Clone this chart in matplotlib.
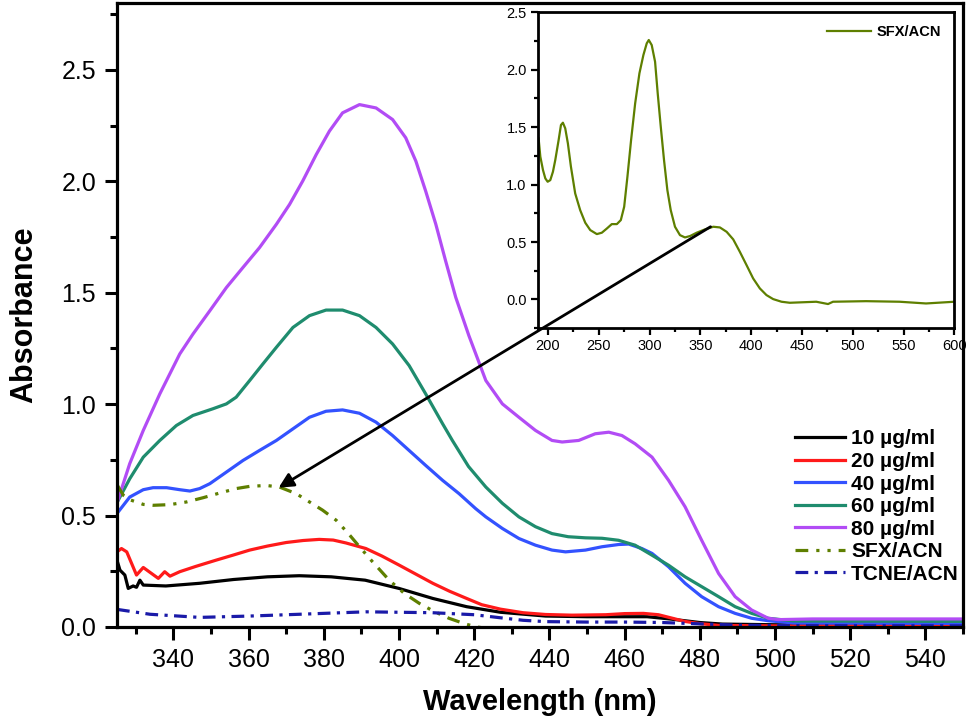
import numpy as np
import matplotlib.pyplot as plt
from matplotlib.ticker import MultipleLocator

plt.rcParams['font.family'] = ['Liberation Sans', 'DejaVu Sans']

# main spectra, values (wavelength nm, absorbance)
wl_10 = [325, 325.8, 327.1, 328, 329.3, 330.2, 331.1, 332, 338, 347, 356, 365, 373.5, 382, 391, 400, 409, 418, 427, 439, 450, 466, 472, 480, 486, 500, 520, 550]
abs_10 = [0.30, 0.255, 0.233, 0.173, 0.184, 0.178, 0.21, 0.188, 0.184, 0.196, 0.213, 0.225, 0.23, 0.225, 0.21, 0.173, 0.128, 0.091, 0.066, 0.049, 0.046, 0.046, 0.036, 0.02, 0.013, 0.01, 0.01, 0.01]

wl_20 = [325, 326.2, 327.6, 330.2, 332, 334.2, 336, 337.7, 339.1, 341.7, 346, 351.4, 356, 360.3, 365, 370, 374.5, 378.8, 382.5, 385.9, 391.2, 395.5, 400, 404.5, 409, 413.5, 418, 422, 427, 433, 439, 446, 455, 460, 465, 469, 473, 476, 480, 485, 500, 550]
abs_20 = [0.337, 0.352, 0.337, 0.233, 0.267, 0.24, 0.218, 0.248, 0.228, 0.248, 0.272, 0.30, 0.323, 0.345, 0.363, 0.379, 0.388, 0.393, 0.39, 0.377, 0.352, 0.318, 0.278, 0.237, 0.196, 0.16, 0.128, 0.1, 0.08, 0.064, 0.056, 0.053, 0.055, 0.06, 0.061, 0.055, 0.038, 0.025, 0.015, 0.007, 0.005, 0.005]

wl_40 = [325, 328.4, 332.0, 334.6, 338.2, 341.7, 344.4, 347.0, 349.7, 354.1, 358.5, 362.9, 367.4, 371.8, 376.2, 380.6, 385.0, 389.5, 393.9, 398.3, 402.7, 407.1, 411.6, 416.0, 420.4, 423.1, 427.5, 431.9, 436.3, 440.7, 444.3, 449.6, 454, 458.4, 461.1, 464.6, 467.3, 471.7, 476.1, 480.5, 485, 489.4, 493.8, 498.2, 505, 550]
abs_40 = [0.509, 0.583, 0.616, 0.625, 0.625, 0.616, 0.61, 0.621, 0.643, 0.695, 0.747, 0.792, 0.837, 0.889, 0.941, 0.968, 0.974, 0.959, 0.919, 0.859, 0.792, 0.725, 0.658, 0.598, 0.531, 0.494, 0.442, 0.397, 0.367, 0.345, 0.337, 0.345, 0.36, 0.37, 0.372, 0.352, 0.33, 0.27, 0.196, 0.136, 0.091, 0.061, 0.039, 0.028, 0.018, 0.016]

wl_60 = [325.1, 328.4, 332.0, 336.4, 340.8, 345.2, 350.5, 354.1, 356.7, 360.3, 363.8, 367.4, 371.8, 376.2, 380.6, 385.0, 389.5, 393.9, 398.3, 402.7, 407.1, 411.6, 414.2, 418.5, 423.1, 427.5, 431.9, 436.3, 440.7, 445, 449.6, 454, 458.4, 462.8, 467.3, 471.7, 476.1, 480.5, 485, 489.4, 493.8, 498.2, 505, 550]
abs_60 = [0.561, 0.665, 0.762, 0.837, 0.904, 0.949, 0.979, 1.001, 1.031, 1.106, 1.18, 1.255, 1.344, 1.397, 1.422, 1.422, 1.397, 1.344, 1.27, 1.173, 1.046, 0.912, 0.837, 0.72, 0.628, 0.555, 0.494, 0.45, 0.419, 0.405, 0.40, 0.398, 0.389, 0.367, 0.322, 0.277, 0.225, 0.181, 0.136, 0.091, 0.061, 0.039, 0.027, 0.025]

wl_80 = [325.1, 328.4, 332.0, 336.4, 341.7, 345.2, 349.7, 354.1, 358.5, 362.9, 367.4, 370.9, 374.4, 378.0, 381.5, 385.0, 389.5, 393.9, 398.3, 401.8, 404.5, 407.1, 409.8, 412.4, 415.1, 418.6, 423.1, 427.5, 431.9, 436.3, 440.7, 443.4, 447.8, 452.2, 455.8, 459.3, 462.8, 467.3, 471.7, 476.1, 480.5, 485.0, 489.4, 493.8, 498.2, 500.9, 510, 550]
abs_80 = [0.561, 0.733, 0.882, 1.046, 1.225, 1.314, 1.419, 1.523, 1.613, 1.702, 1.807, 1.896, 2.001, 2.12, 2.225, 2.307, 2.344, 2.329, 2.277, 2.195, 2.09, 1.956, 1.807, 1.643, 1.479, 1.307, 1.106, 1.001, 0.941, 0.882, 0.837, 0.83, 0.837, 0.867, 0.874, 0.859, 0.822, 0.762, 0.658, 0.539, 0.389, 0.24, 0.136, 0.076, 0.039, 0.033, 0.036, 0.036]

wl_sfx = [325.1, 326.7, 328.4, 332.0, 334.6, 339.1, 343.5, 347.9, 352.3, 356.7, 360.3, 364.7, 368.2, 372.7, 376.2, 379.7, 383.3, 386.5, 389.5, 393.0, 397.4, 401.4, 405.4, 409.4, 413.3, 417.7, 420.8, 423.1]
abs_sfx = [0.636, 0.591, 0.571, 0.55, 0.546, 0.549, 0.561, 0.58, 0.601, 0.621, 0.631, 0.635, 0.628, 0.598, 0.561, 0.524, 0.479, 0.42, 0.36, 0.292, 0.21, 0.151, 0.106, 0.069, 0.039, 0.013, 0.0, -0.006]

wl_tcne = [325, 333.8, 347, 360.3, 373.5, 391.2, 408.9, 420, 426.6, 433, 439, 450, 460, 470, 480, 490, 500, 550]
abs_tcne = [0.079, 0.057, 0.043, 0.049, 0.057, 0.068, 0.064, 0.055, 0.042, 0.03, 0.024, 0.022, 0.022, 0.02, 0.014, 0.008, 0.006, 0.005]

# inset: full SFX/ACN spectrum
wl_inset = [190.8, 192.5, 195.1, 197.4, 199.7, 202.3, 204.9, 207.2, 210.5, 212.8, 214.7, 217.0, 219.6, 222.6, 226.8, 231.7, 236.7, 241.6, 248.1, 253.0, 258.0, 262.8, 267.8, 271.7, 275.0, 278.2, 281.8, 285.8, 290.0, 293.9, 297.2, 299.2, 302.1, 305.4, 308.0, 311.0, 314.2, 317.5, 320.8, 325.0, 329.9, 334.8, 339.8, 346.3, 354.5, 362.7, 369.2, 375.8, 382.3, 388.8, 395.4, 401.9, 408.5, 415.0, 421.6, 429.8, 438.0, 464, 475.6, 480.5, 513, 546, 572, 600]
abs_inset = [1.402, 1.243, 1.127, 1.054, 1.025, 1.039, 1.112, 1.214, 1.388, 1.519, 1.539, 1.49, 1.359, 1.156, 0.923, 0.778, 0.668, 0.604, 0.569, 0.581, 0.618, 0.656, 0.656, 0.691, 0.807, 1.069, 1.388, 1.707, 1.969, 2.128, 2.23, 2.259, 2.215, 2.07, 1.794, 1.504, 1.214, 0.952, 0.778, 0.633, 0.56, 0.54, 0.552, 0.581, 0.61, 0.633, 0.627, 0.589, 0.523, 0.415, 0.299, 0.183, 0.096, 0.038, 0.003, -0.02, -0.029, -0.02, -0.04, -0.02, -0.015, -0.02, -0.035, -0.02]

fig = plt.figure(figsize=(9.69, 7.26), dpi=100)
ax = fig.add_axes([0.1207, 0.1364, 0.8731, 0.8595])

lw = 2.3
ax.plot(wl_10, abs_10, color='black', lw=lw, label='10 µg/ml')
ax.plot(wl_20, abs_20, color='#ff1a1a', lw=lw, label='20 µg/ml')
ax.plot(wl_40, abs_40, color='#3352ff', lw=lw, label='40 µg/ml')
ax.plot(wl_60, abs_60, color='#1f8c6e', lw=lw, label='60 µg/ml')
ax.plot(wl_80, abs_80, color='#b24cf5', lw=lw, label='80 µg/ml')
ax.plot(wl_sfx, abs_sfx, color='#5e7f00', lw=lw, dashes=[4, 2.5, 1, 2.5, 1, 2.5], label='SFX/ACN')
ax.plot(wl_tcne, abs_tcne, color='#1a1aa8', lw=lw, dashes=[4, 2, 1, 2], label='TCNE/ACN')

ax.set_xlim(325, 550)
ax.set_ylim(0, 2.8)
ax.xaxis.set_major_locator(MultipleLocator(20))
ax.xaxis.set_minor_locator(MultipleLocator(10))
ax.yaxis.set_major_locator(MultipleLocator(0.5))
ax.yaxis.set_minor_locator(MultipleLocator(0.25))
ax.tick_params(which='major', direction='out', length=9, width=2.2, labelsize=18, pad=6)
ax.tick_params(which='minor', direction='out', length=5, width=2.2)
ax.tick_params(top=False, right=False)
for s in ax.spines.values():
    s.set_linewidth(2.3)

ax.set_xlabel('Wavelength (nm)', fontsize=21, fontweight='bold', labelpad=12)
ax.set_ylabel('Absorbance', fontsize=22, fontweight='bold', labelpad=16)

leg = ax.legend(loc='lower right', bbox_to_anchor=(1.005, 0.056), frameon=False,
                prop={'weight': 'bold', 'size': 15}, handlelength=2.4,
                handletextpad=0.3, labelspacing=0.17, borderaxespad=0.0)

# inset
axins = fig.add_axes([0.555, 0.548, 0.430, 0.435])
axins.plot(wl_inset, abs_inset, color='#5e7f00', lw=1.6, label='SFX/ACN')
axins.set_xlim(190, 600)
axins.set_ylim(-0.25, 2.5)
axins.xaxis.set_major_locator(MultipleLocator(50))
axins.xaxis.set_minor_locator(MultipleLocator(25))
axins.yaxis.set_major_locator(MultipleLocator(0.5))
axins.yaxis.set_minor_locator(MultipleLocator(0.25))
axins.tick_params(which='major', direction='out', length=5, width=1.6, labelsize=10.5, pad=3)
axins.tick_params(which='minor', direction='out', length=3, width=1.6)
for s in axins.spines.values():
    s.set_linewidth(2.0)
axins.legend(loc='upper right', frameon=False, prop={'weight': 'bold', 'size': 10.5},
             handlelength=3.0, handletextpad=0.4)

# arrow from inset shoulder to the SFX/ACN curve in main plot
axins.annotate('', xy=(368, 0.625), xycoords=ax.transData,
               xytext=(360, 0.633), textcoords='data',
               arrowprops=dict(arrowstyle='-|>', color='black', lw=2,
                               mutation_scale=22, shrinkA=0, shrinkB=0),
               annotation_clip=False)

fig.savefig('out.png', dpi=100)
